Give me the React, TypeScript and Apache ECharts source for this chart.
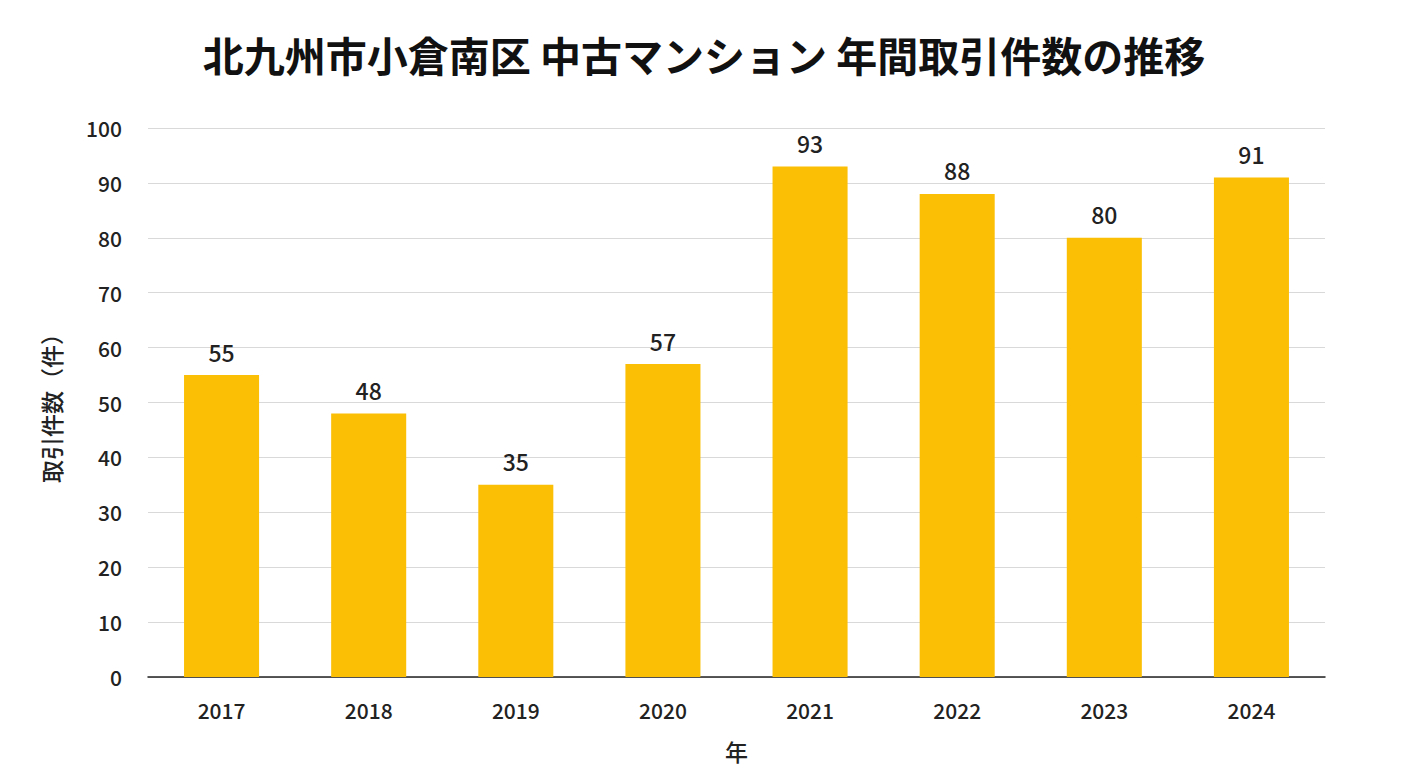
import { useEffect, useRef } from 'react'
import * as echarts from 'echarts'

const years = ['2017', '2018', '2019', '2020', '2021', '2022', '2023', '2024']
const counts = [55, 48, 35, 57, 93, 88, 80, 91]

const font = '"Noto Sans CJK JP", "Noto Sans", sans-serif'

export default function App() {
  const ref = useRef<HTMLDivElement>(null)

  useEffect(() => {
    document.body.style.margin = '0'
    if (!ref.current) return
    const chart = echarts.init(ref.current, null, { renderer: 'svg' })
    chart.setOption({
      animation: false,
      backgroundColor: '#fff',
      textStyle: { fontFamily: font },
      title: {
        text: '北九州市小倉南区 中古マンション 年間取引件数の推移',
        left: 'center',
        top: 28,
        textStyle: { fontSize: 41, fontWeight: 'bold', color: '#111', fontFamily: font },
      },
      grid: { left: 148, right: 83, top: 128, bottom: 91 },
      xAxis: {
        type: 'category',
        data: years,
        name: '年',
        nameLocation: 'middle',
        nameGap: 62,
        nameTextStyle: { fontSize: 23, fontWeight: 500, color: '#222' },
        axisLine: { lineStyle: { color: '#222', width: 1.5 } },
        axisTick: { show: false },
        axisLabel: { fontSize: 21, fontWeight: 500, color: '#222', margin: 22 },
      },
      yAxis: {
        type: 'value',
        min: 0,
        max: 100,
        interval: 10,
        name: '取引件数（件）',
        nameLocation: 'middle',
        nameRotate: 90,
        nameGap: 86,
        nameTextStyle: { fontSize: 23, fontWeight: 500, color: '#222' },
        axisLine: { show: false },
        axisTick: { show: false },
        axisLabel: { fontSize: 21, fontWeight: 500, color: '#222', margin: 26 },
        splitLine: { lineStyle: { color: '#d9d9d9', width: 1 } },
      },
      series: [
        {
          type: 'bar',
          data: counts,
          barWidth: '51%',
          itemStyle: { color: '#FBBF05' },
          label: {
            show: true,
            position: 'top',
            distance: 12,
            fontSize: 23,
            fontWeight: 500,
            color: '#222',
          },
        },
      ],
    })
    return () => chart.dispose()
  }, [])

  return <div ref={ref} style={{ width: 1408, height: 768 }} />
}
